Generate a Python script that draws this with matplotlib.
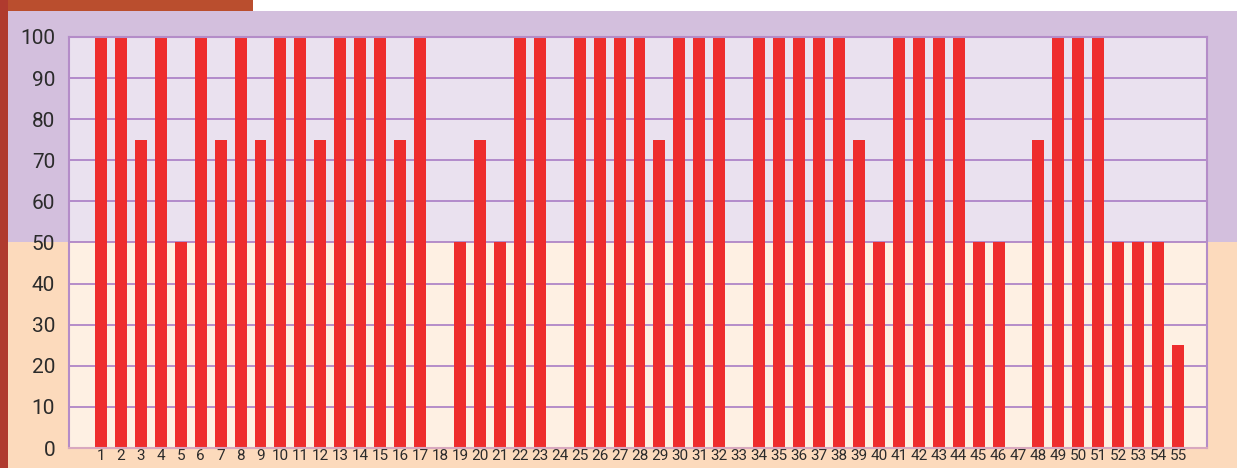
import numpy as np
import matplotlib.pyplot as plt
from matplotlib import font_manager
from matplotlib.patches import Rectangle

# 数据
categories = list(range(1, 56))
values = [100, 100, 75, 100, 50, 100, 75, 100, 75, 100,
          100, 75, 100, 100, 100, 75, 100, 0, 50, 75,
          50, 100, 100, 0, 100, 100, 100, 100, 75, 100,
          100, 100, 0, 100, 100, 100, 100, 100, 75, 50,
          100, 100, 100, 100, 50, 50, 0, 75, 100, 100,
          100, 50, 50, 50, 25]
y_ticks = list(range(0, 101, 10))

W, H = 1239, 468
fig = plt.figure(figsize=(W / 100, H / 100), dpi=100)
fig.patch.set_facecolor('white')

# 看看有没有窄体字
names = {f.name for f in font_manager.fontManager.ttflist}
if 'Liberation Sans Narrow' in names:
    font, xsize, ysize = 'Liberation Sans Narrow', 13, 16
else:
    font, xsize, ysize = 'Roboto', 11, 15


# 背景色块（像素坐标转成 figure 坐标）
def px_rect(x0, y0, x1, y1, color):
    fig.patches.append(Rectangle((x0 / W, 1 - y1 / H), (x1 - x0) / W, (y1 - y0) / H,
                                 transform=fig.transFigure, facecolor=color,
                                 edgecolor='none', zorder=-5))


px_rect(0, 0, 253, 11, '#BA4E2E')
px_rect(0, 0, 8, H, '#B03A2E')
px_rect(8, 11, W - 2, 242, '#D3BFDD')
px_rect(8, 242, W - 2, H, '#FCDABC')

left, right, top, bottom = 69, 1207, 37, 448
ax = fig.add_axes([left / W, 1 - bottom / H, (right - left) / W, (bottom - top) / H])
ax.set_zorder(5)
ax.set_facecolor('none')
ax.set_xlim(-0.6, 56.45)
ax.set_ylim(0, 100)

# 内部两段浅色底
ax.axhspan(50, 100, color='#EAE1EF', zorder=0)
ax.axhspan(0, 50, color='#FEF0E3', zorder=0)

for y in y_ticks[1:]:
    ax.axhline(y, color='#A97CC4', lw=1.2, zorder=1)

ax.bar(categories, values, width=0.6, color='#EE2D2D', zorder=2)

ax.set_yticks(y_ticks)
ax.set_xticks(categories)
ax.set_yticklabels([str(v) for v in y_ticks], family=font, fontsize=ysize, color='#2B2B2B')
ax.set_xticklabels([str(c) for c in categories], family=font, fontsize=xsize, color='#2B2B2B')
ax.tick_params(length=0)
ax.tick_params(axis='y', pad=10)
ax.tick_params(axis='x', pad=1)

for side in ['left', 'right', 'top']:
    ax.spines[side].set_color('#B48CC8')
    ax.spines[side].set_linewidth(1.5)
ax.spines['bottom'].set_color('#D9A8BE')
ax.spines['bottom'].set_linewidth(1.5)

fig.savefig('out.png', dpi=100)
